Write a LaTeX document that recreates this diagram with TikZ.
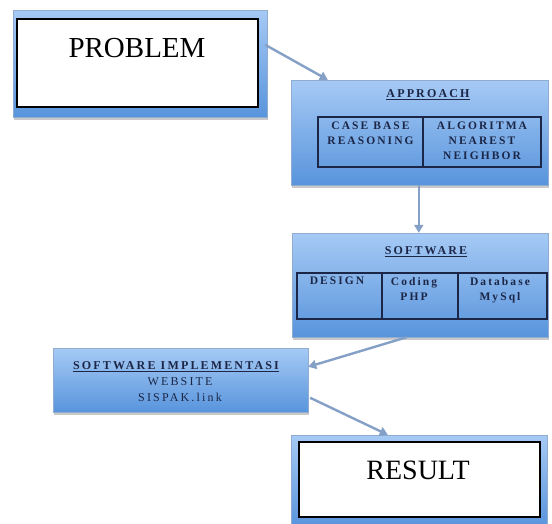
\documentclass[tikz,border=0pt]{standalone}
\usepackage{fontspec}
\setmainfont{Liberation Serif}
\newfontfamily\spaced[LetterSpace=18]{Liberation Serif}
\usetikzlibrary{shadows,calc,arrows.meta}
\definecolor{bluetop}{RGB}{166,202,245}
\definecolor{bluebot}{RGB}{88,148,220}
\definecolor{navy}{RGB}{28,38,70}
\definecolor{arrowc}{RGB}{132,160,198}
\tikzset{
  bluebox/.style={rectangle, inner sep=0pt, top color=bluetop, bottom color=bluebot,
    draw=bluebot!80!black!60, line width=0.4pt,
    drop shadow={shadow xshift=1pt, shadow yshift=-3pt, opacity=0.35, fill=black!60}},
  whitebox/.style={rectangle, inner sep=0pt, fill=white, draw=black, line width=1.4pt},
  cell/.style={rectangle, inner sep=0pt, draw=navy, line width=1.3pt},
  celltext/.style={text=navy, font=\spaced\bfseries\fontsize{11.5}{15}\selectfont, align=center, inner sep=0pt},
  title/.style={text=navy, font=\spaced\bfseries\fontsize{12}{15}\selectfont, inner sep=0pt},
  bigtext/.style={font=\fontsize{29}{32}\selectfont, inner sep=0pt},
  conn/.style={draw=arrowc, line width=2.4pt, -{Triangle[length=8pt,width=9pt]}}
}
\begin{document}
\begin{tikzpicture}[x=1pt,y=-1pt]
\useasboundingbox[fill=white] (0,0) rectangle (552,523);
% PROBLEM
\node[bluebox, minimum width=254pt, minimum height=107pt] (probOuter) at (140,63.5) {};
\node[whitebox, minimum width=241pt, minimum height=88pt] (prob) at (137.5,63) {};
\node[bigtext] (probtext) at (137,48) {PROBLEM};
% APPROACH
\node[bluebox, minimum width=257pt, minimum height=105pt] (appr) at (419.5,132.5) {};
\node[title] (apprtitle) at (428,95) {\underline{APPROACH}};
\node[cell, minimum width=105pt, minimum height=50pt] (cbr) at (370.5,142) {};
\node[cell, minimum width=118pt, minimum height=50pt] (knn) at (482,142) {};
\node[celltext, anchor=north] (cbrtext) at (370.5,122) {CASE BASE\\REASONING};
\node[celltext, anchor=north] (knntext) at (482,122) {ALGORITMA\\NEAREST\\NEIGHBOR};
% SOFTWARE
\node[bluebox, minimum width=256pt, minimum height=104pt] (soft) at (420,285) {};
\node[title] (softtitle) at (426,252) {\underline{SOFTWARE}};
\node[cell, minimum width=85pt, minimum height=46pt] (design) at (339.5,296) {};
\node[cell, minimum width=76pt, minimum height=46pt] (coding) at (420,296) {};
\node[cell, minimum width=89pt, minimum height=46pt] (db) at (502.5,296) {};
\node[celltext, anchor=north] (designtext) at (337,277) {DESIGN};
\node[celltext, anchor=north] (codingtext) at (414,277) {Coding\\PHP};
\node[celltext, anchor=north] (dbtext) at (500,277) {Database\\MySql};
% SOFTWARE IMPLEMENTASI
\node[bluebox, minimum width=255pt, minimum height=64pt] (impl) at (180.5,380) {};
\node[title] (impltitle) at (176,367) {\underline{SOFTWARE IMPLEMENTASI}};
\node[celltext, font=\spaced\fontsize{12}{16}\selectfont, anchor=north] (impltext) at (180,377) {WEBSITE\\SISPAK.link};
% RESULT
\node[bluebox, minimum width=256pt, minimum height=92pt] (resOuter) at (419,481) {};
\node[whitebox, minimum width=241pt, minimum height=75pt] (res) at (419.5,479.5) {};
\node[bigtext, font=\fontsize{28}{32}\selectfont] (restext) at (418,470) {RESULT};
% connectors
\draw[conn] ($(probOuter.north east)+(-2,35)$) -- ($(appr.north west)+(37,0)$);
\draw[conn] ($(appr.south west)+(128,0)$) -- ($(soft.north west)+(127,0)$);
\draw[conn] ($(soft.south west)+(115,0)$) -- ($(impl.north east)+(0,19)$);
\draw[conn] ($(impl.north east)+(2,50)$) -- ($(resOuter.north west)+(97,0)$);
\end{tikzpicture}
\end{document}
